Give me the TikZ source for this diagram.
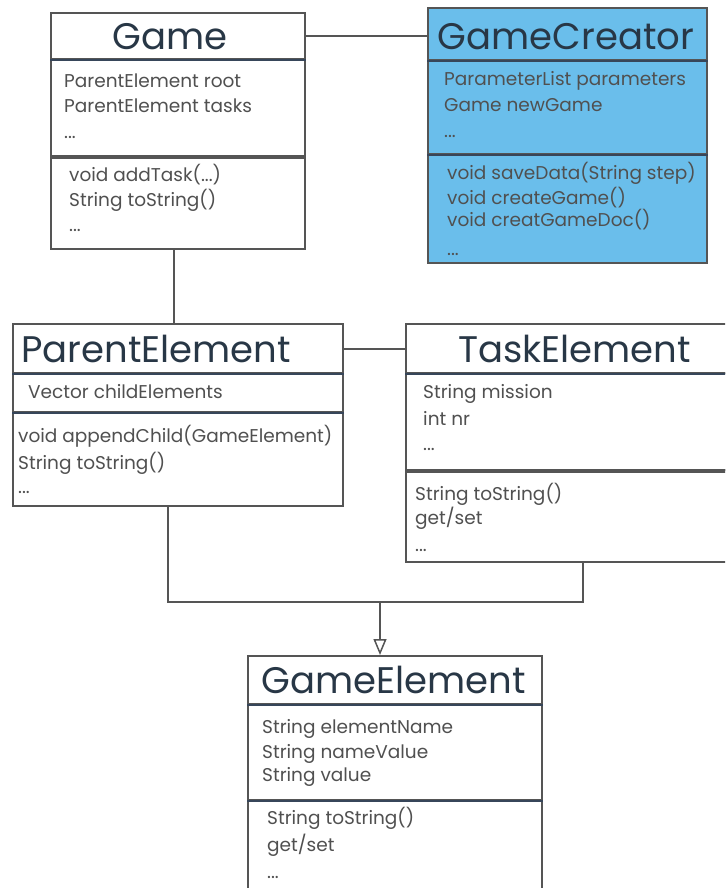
\documentclass[tikz,border=0pt]{standalone}
\usepackage{fontspec}
\setmainfont{Poppins}
\usetikzlibrary{arrows.meta,calc}
\definecolor{linec}{RGB}{85,85,85}
\definecolor{hdrc}{RGB}{55,70,90}
\definecolor{blueA}{RGB}{106,190,235}
\definecolor{titlec}{RGB}{40,55,70}
\definecolor{bodyc}{RGB}{80,80,80}
\newcommand{\ttlfont}{\fontsize{37}{42}\selectfont}
\newcommand{\bdyfont}{\fontsize{18.5}{22}\selectfont}
\begin{document}
\begin{tikzpicture}[x=1pt,y=-1pt,
  comp/.style={draw=linec, line width=2pt, rectangle, inner sep=0pt, anchor=north west},
  ttl/.style={font=\ttlfont, text=titlec, inner sep=0pt},
  txt/.style={font=\bdyfont, text=bodyc, inner sep=0pt, anchor=base west},
  link/.style={draw=linec, line width=2pt},
  hline/.style={draw=hdrc, line width=2.2pt},
  sepline/.style={draw=linec, line width=3.5pt}]
\useasboundingbox (0,0) rectangle (725,888);
\clip (0,0) rectangle (725,888);
\fill[white] (0,0) rectangle (725,888);

% ---------- Game ----------
\node[comp, minimum width=254, minimum height=46] (gameT) at (50,12) {};
\node[comp, minimum width=254, minimum height=97] (gameA) at (50,58) {};
\node[comp, minimum width=254, minimum height=93] (gameM) at (50,155) {};
\draw[hline] (gameT.south west) -- (gameT.south east);
\draw[sepline] (gameA.south west) -- (gameA.south east);
\node[ttl, anchor=base] (gameN) at (170,50) {Game};
\node[txt] (ga1) at (64,88) {ParentElement root};
\node[txt] (ga2) at (64,113) {ParentElement tasks};
\node[txt] (ga3) at (64,139) {...};
\node[txt] (gm1) at (69,181) {void addTask(...)};
\node[txt] (gm2) at (69,206) {String toString()};
\node[txt] (gm3) at (69,231) {...};

% ---------- GameCreator ----------
\node[comp, fill=blueA, minimum width=279, minimum height=52] (gcT) at (427,7) {};
\node[comp, fill=blueA, minimum width=279, minimum height=94] (gcA) at (427,59) {};
\node[comp, fill=blueA, minimum width=279, minimum height=109] (gcM) at (427,153) {};
\draw[hline] (gcT.south west) -- (gcT.south east);
\draw[hline] (gcA.south west) -- (gcA.south east);
\node[ttl, anchor=base] (gcN) at (566,50) {GameCreator};
\node[txt] (ca1) at (444,86) {ParameterList parameters};
\node[txt] (ca2) at (444,111) {Game newGame};
\node[txt] (ca3) at (444,137) {...};
\node[txt] (cm1) at (447,179) {void saveData(String step)};
\node[txt] (cm2) at (447,204) {void createGame()};
\node[txt] (cm3) at (447,226) {void creatGameDoc()};
\node[txt] (cm4) at (447,255) {...};

% ---------- ParentElement ----------
\node[comp, minimum width=330, minimum height=49] (peT) at (12,323) {};
\node[comp, minimum width=330, minimum height=39] (peA) at (12,372) {};
\node[comp, minimum width=330, minimum height=94] (peM) at (12,411) {};
\draw[hline] (peT.south west) -- (peT.south east);
\draw[hline] (peA.south west) -- (peA.south east);
\node[ttl, anchor=base west] (peN) at (21,362) {ParentElement};
\node[txt] (pa1) at (28,398) {Vector childElements};
\node[txt] (pm1) at (18,442) {void appendChild(GameElement)};
\node[txt] (pm2) at (18,469) {String toString()};
\node[txt] (pm3) at (18,493) {...};

% ---------- TaskElement ----------
\node[comp, minimum width=340, minimum height=49] (teT) at (405,323) {};
\node[comp, minimum width=340, minimum height=97] (teA) at (405,372) {};
\node[comp, minimum width=340, minimum height=92] (teM) at (405,469) {};
\draw[hline] (teT.south west) -- (teT.south east);
\draw[sepline] (teA.south west) -- (teA.south east);
\node[ttl, anchor=base west] (teN) at (458,362) {TaskElement};
\node[txt] (ta1) at (423,398) {String mission};
\node[txt] (ta2) at (423,425) {int nr};
\node[txt] (ta3) at (423,450) {...};
\node[txt] (tm1) at (415,500) {String toString()};
\node[txt] (tm2) at (415,524) {get/set};
\node[txt] (tm3) at (415,551) {...};

% ---------- GameElement ----------
\node[comp, minimum width=294, minimum height=48] (geT) at (247,655) {};
\node[comp, minimum width=294, minimum height=96] (geA) at (247,703) {};
\node[comp, minimum width=294, minimum height=110] (geM) at (247,799) {};
\draw[hline] (geT.south west) -- (geT.south east);
\draw[hline] (geA.south west) -- (geA.south east);
\node[ttl, anchor=base] (geN) at (394,693) {GameElement};
\node[txt] (ea1) at (262,733) {String elementName};
\node[txt] (ea2) at (262,758) {String nameValue};
\node[txt] (ea3) at (262,781) {String value};
\node[txt] (em1) at (267,824) {String toString()};
\node[txt] (em2) at (267,851) {get/set};
\node[txt] (em3) at (267,878) {...};

% ---------- connectors ----------
\draw[link] (gameT.east) -- (gameT.east -| gcT.west);
\coordinate (gd) at ($(gameM.south)+(-4,0)$);
\draw[link] (gd) -- (gd |- peT.north);
\draw[link] (peT.east) -- (peT.east -| teT.west);
\coordinate (pd) at ($(peM.south)+(-10,0)$);
\coordinate (td) at ($(teM.south west)+(178,0)$);
\coordinate (jn) at (380,602);
\draw[link] (pd) |- (jn) -| (td);
\draw[link, -{Triangle[open, width=13pt, length=16pt, line width=1.5pt]}] (jn) -- (jn |- geT.north);
\end{tikzpicture}
\end{document}
